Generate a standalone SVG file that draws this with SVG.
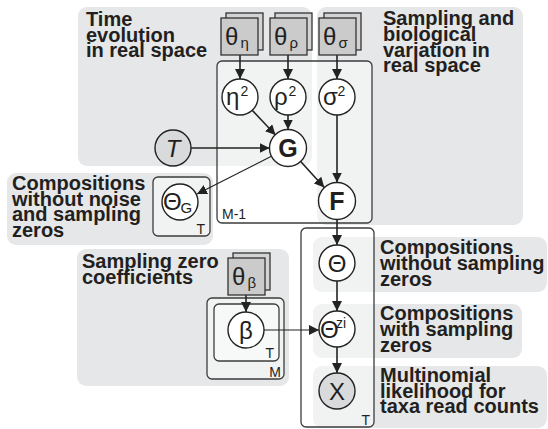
<svg xmlns="http://www.w3.org/2000/svg" width="548" height="429" viewBox="0 0 548 429">
<defs>
<style>
.bg{fill:#e6e7e8;}
.plate{fill:#ffffff;fill-opacity:0.45;stroke:#3c3c3c;stroke-width:1.3;}
.node{fill:#ffffff;stroke:#222;stroke-width:1.4;}
.obs{fill:#d9dadb;stroke:#222;stroke-width:1.4;}
.box{fill:#cbcbcb;stroke:#333;stroke-width:1.3;}
.box2{fill:#d3d3d3;stroke:#333;stroke-width:1.3;}
.lbl{font-family:"Liberation Sans",Arial,sans-serif;font-weight:bold;font-size:20px;fill:#231f20;}
.sym{font-family:"Liberation Sans",Arial,sans-serif;font-size:24px;fill:#231f20;}
.sub{font-family:"Liberation Sans",Arial,sans-serif;font-size:15px;fill:#231f20;}
.sup{font-family:"Liberation Sans",Arial,sans-serif;font-size:14px;fill:#231f20;}
.pl{font-family:"Liberation Sans",Arial,sans-serif;font-size:14px;fill:#231f20;}
.bold{font-family:"Liberation Sans",Arial,sans-serif;font-weight:bold;font-size:25px;fill:#231f20;}
.edge{stroke:#222;stroke-width:1.6;fill:none;marker-end:url(#ah);}
.thin{stroke:#222;stroke-width:1.1;fill:none;marker-end:url(#ah);}
</style>
<marker id="ah" markerUnits="userSpaceOnUse" markerWidth="11" markerHeight="10" refX="10" refY="5" orient="auto">
<path d="M0,0 L10,5 L0,10 z" fill="#222"/>
</marker>
</defs>

<g id="backgrounds">
<rect class="bg" x="78" y="7" width="234" height="159" rx="9"/>
<rect class="bg" x="317" y="7" width="206" height="218" rx="9"/>
<rect class="bg" x="7" y="173" width="206" height="72" rx="9"/>
<rect class="bg" x="77" y="249" width="212" height="137" rx="9"/>
<rect class="bg" x="313" y="237" width="234" height="55" rx="9"/>
<rect class="bg" x="313" y="304" width="209" height="54" rx="9"/>
<rect class="bg" x="313" y="366" width="234" height="62" rx="9"/>
</g>

<g id="region-labels">
<text class="lbl"><tspan x="86" y="26">Time</tspan><tspan x="86" y="41.5">evolution</tspan><tspan x="86" y="57">in real space</tspan></text>
<text class="lbl"><tspan x="383" y="25">Sampling and</tspan><tspan x="383" y="41">biological</tspan><tspan x="383" y="56.5">variation in</tspan><tspan x="383" y="72">real space</tspan></text>
<text class="lbl"><tspan x="12" y="190">Compositions</tspan><tspan x="12" y="205.5">without noise</tspan><tspan x="12" y="221">and sampling</tspan><tspan x="12" y="237">zeros</tspan></text>
<text class="lbl"><tspan x="82" y="268">Sampling zero</tspan><tspan x="82" y="284">coefficients</tspan></text>
<text class="lbl"><tspan x="380" y="254">Compositions</tspan><tspan x="380" y="270">without sampling</tspan><tspan x="380" y="286">zeros</tspan></text>
<text class="lbl"><tspan x="380" y="320">Compositions</tspan><tspan x="380" y="336">with sampling</tspan><tspan x="380" y="352">zeros</tspan></text>
<text class="lbl"><tspan x="380" y="382">Multinomial</tspan><tspan x="380" y="397.5">likelihood for</tspan><tspan x="380" y="413">taxa read counts</tspan></text>
</g>

<g id="plates">
<rect id="plate-M-1" class="plate" x="217" y="61" width="155" height="162" rx="5"/>
<text class="pl" x="222" y="219">M-1</text>
<rect id="plate-T-right" class="plate" x="301" y="228" width="73" height="199" rx="5"/>
<text class="pl" x="370" y="425" text-anchor="end">T</text>
<rect id="plate-T-thetaG" class="plate" x="153" y="177" width="57" height="59" rx="5"/>
<text class="pl" x="205" y="234" text-anchor="end">T</text>
<rect id="plate-M-beta" class="plate" x="207" y="298" width="77" height="81" rx="5"/>
<text class="pl" x="281" y="377" text-anchor="end">M</text>
<rect id="plate-T-beta" class="plate" x="214" y="304" width="65" height="57" rx="5"/>
<text class="pl" x="274" y="357.5" text-anchor="end">T</text>
</g>

<g id="connectors">
<line class="edge" x1="240" y1="55" x2="240" y2="79"/>
<line class="edge" x1="288" y1="55" x2="288" y2="79"/>
<line class="edge" x1="337" y1="55" x2="337" y2="79"/>
<line class="edge" x1="252.2" y1="110.2" x2="275.5" y2="135"/>
<line class="edge" x1="288" y1="115" x2="288" y2="129.5"/>
<line class="edge" x1="191" y1="148" x2="269.5" y2="148"/>
<line class="edge" x1="337" y1="115" x2="337" y2="182.5"/>
<line class="edge" x1="300.7" y1="161.5" x2="324.3" y2="187.5"/>
<line class="thin" x1="271.4" y1="156.3" x2="197" y2="194"/>
<line class="edge" x1="337" y1="220" x2="337" y2="245"/>
<line class="edge" x1="337" y1="281" x2="337" y2="311"/>
<line class="edge" x1="337" y1="347" x2="337" y2="373"/>
<line class="thin" x1="264" y1="330" x2="319" y2="330"/>
<line class="edge" x1="246" y1="295" x2="246" y2="312"/>
</g>

<g id="theta-eta">
<rect class="box2" x="226" y="13" width="37" height="37"/>
<rect class="box" x="221" y="18" width="37" height="37"/>
<text class="sym" x="225" y="44.5">θ</text><text class="sub" x="240.5" y="48">η</text>
</g>
<g id="theta-rho">
<rect class="box2" x="275" y="13" width="37" height="37"/>
<rect class="box" x="270" y="18" width="37" height="37"/>
<text class="sym" x="274" y="44.5">θ</text><text class="sub" x="289.5" y="48">ρ</text>
</g>
<g id="theta-sigma">
<rect class="box2" x="324" y="13" width="37" height="37"/>
<rect class="box" x="319" y="18" width="37" height="37"/>
<text class="sym" x="323" y="44.5">θ</text><text class="sub" x="338.5" y="48">σ</text>
</g>
<g id="theta-beta">
<rect class="box2" x="233" y="253" width="37" height="37"/>
<rect class="box" x="228" y="258" width="37" height="37"/>
<text class="sym" x="232" y="284.5">θ</text><text class="sub" x="247.5" y="288">β</text>
</g>

<g id="eta2">
<circle class="node" cx="240" cy="97" r="18"/>
<text class="sym" x="226" y="105">η</text><text class="sup" x="240.5" y="96">2</text>
</g>
<g id="rho2">
<circle class="node" cx="288" cy="97" r="18"/>
<text class="sym" x="274" y="105">ρ</text><text class="sup" x="288.5" y="96">2</text>
</g>
<g id="sigma2">
<circle class="node" cx="337" cy="97" r="18"/>
<text class="sym" x="323" y="105">σ</text><text class="sup" x="337.5" y="96">2</text>
</g>
<g id="T">
<circle class="obs" cx="173" cy="148" r="18"/>
<text class="sym" x="173" y="156.5" text-anchor="middle" font-style="italic">T</text>
</g>
<g id="G">
<circle class="node" cx="288" cy="148" r="18.5"/>
<text class="bold" x="288" y="157" text-anchor="middle">G</text>
</g>
<g id="F">
<circle class="node" cx="337" cy="201" r="18.5"/>
<text class="bold" x="337" y="210" text-anchor="middle" font-size="24">F</text>
</g>
<g id="ThetaG">
<circle class="node" cx="180" cy="202" r="18"/>
<text class="sym" x="163" y="209.5" font-size="22">Θ</text><text class="sub" x="180.5" y="213" font-size="15">G</text>
</g>
<g id="Theta">
<circle class="node" cx="337" cy="263" r="18"/>
<text class="sym" x="337" y="271.5" text-anchor="middle" font-size="23">Θ</text>
</g>
<g id="ThetaZI">
<circle class="node" cx="337" cy="329" r="18"/>
<text class="sym" x="320" y="337.5" font-size="22">Θ</text><text class="sup" x="336" y="328">zi</text>
</g>
<g id="X">
<circle class="obs" cx="337" cy="391" r="18"/>
<text class="sym" x="337" y="399.5" text-anchor="middle" font-size="23">X</text>
</g>
<g id="beta">
<circle class="node" cx="246" cy="330" r="18"/>
<text class="sym" x="246" y="338.5" text-anchor="middle">β</text>
</g>
</svg>
